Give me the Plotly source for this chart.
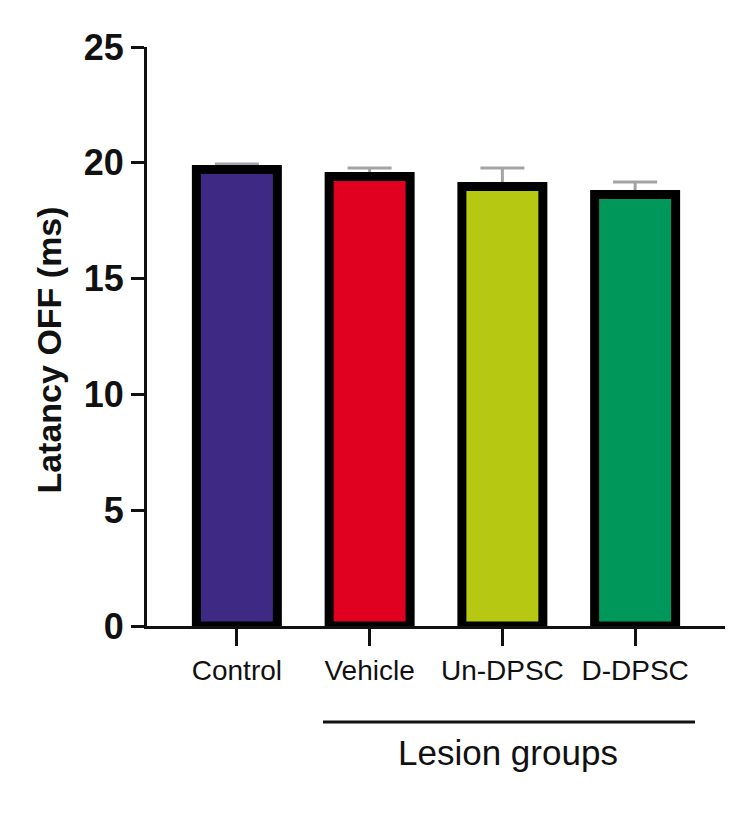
import plotly.graph_objects as go

groups = ["Control", "Vehicle", "Un-DPSC", "D-DPSC"]
latency_mean = [19.71, 19.41, 18.98, 18.63]
latency_sem = [0.24, 0.37, 0.80, 0.54]
bar_colors = ["#3e2a84", "#e0001f", "#b7c812", "#00975a"]
y_ticks = [0, 5, 10, 15, 20, 25]

FONT = "Arial, Liberation Sans, sans-serif"

fig = go.Figure()
# filled bars carrying the upward SEM whiskers
fig.add_trace(
    go.Bar(
        x=groups,
        y=latency_mean,
        width=0.61,
        marker=dict(color=bar_colors, line=dict(width=0)),
        error_y=dict(
            type="data",
            symmetric=False,
            array=latency_sem,
            arrayminus=[0] * len(latency_sem),
            color="#a3a3a3",
            thickness=3,
            width=22,
        ),
        showlegend=False,
        hoverinfo="skip",
    )
)
# black outline drawn on top so the lower whisker cap is hidden
fig.add_trace(
    go.Bar(
        x=groups,
        y=latency_mean,
        width=0.61,
        marker=dict(color="rgba(0,0,0,0)", line=dict(color="#000000", width=9)),
        showlegend=False,
    )
)

fig.update_layout(
    barmode="overlay",
    width=736,
    height=807,
    margin=dict(l=139, r=19, t=39, b=189),
    plot_bgcolor="#ffffff",
    paper_bgcolor="#ffffff",
    font=dict(family=FONT, color="#111111"),
    xaxis={
        "range": [-0.677, 3.677],
        "showline": True,
        "linewidth": 3,
        "linecolor": "#111111",
        "ticks": "outside",
        "ticklen": 17,
        "tickwidth": 3,
        "tickcolor": "#111111",
        "showgrid": False,
        "zeroline": False,
        "tickfont": {"size": 28, "family": FONT, "color": "#111111"},
    },
    yaxis={
        "range": [0, 25],
        "tickvals": y_ticks,
        "showline": True,
        "linewidth": 3,
        "linecolor": "#111111",
        "ticks": "outside",
        "ticklen": 13,
        "tickwidth": 3,
        "tickcolor": "#111111",
        "showgrid": False,
        "zeroline": False,
        "tickfont": {"size": 36, "family": FONT, "color": "#111111", "weight": "bold"},
    },
)

# y-axis title placed by hand to sit where the original has it
fig.add_annotation(
    text="<b>Latancy OFF (ms)</b>",
    xref="paper",
    yref="paper",
    x=-0.17,
    y=0.477,
    xanchor="center",
    yanchor="middle",
    textangle=-90,
    showarrow=False,
    font=dict(size=34, family=FONT, color="#111111"),
)

# bracket under the lesion groups
fig.add_shape(
    type="line",
    xref="paper",
    yref="paper",
    x0=(323 - 147) / 578,
    x1=(695 - 147) / 578,
    y0=-0.166,
    y1=-0.166,
    line=dict(color="#111111", width=3),
)
fig.add_annotation(
    text="Lesion groups",
    xref="paper",
    yref="paper",
    x=(508 - 147) / 578,
    y=-0.181,
    xanchor="center",
    yanchor="top",
    showarrow=False,
    font=dict(size=35, family=FONT, color="#111111"),
)

fig.write_html("out.html")
